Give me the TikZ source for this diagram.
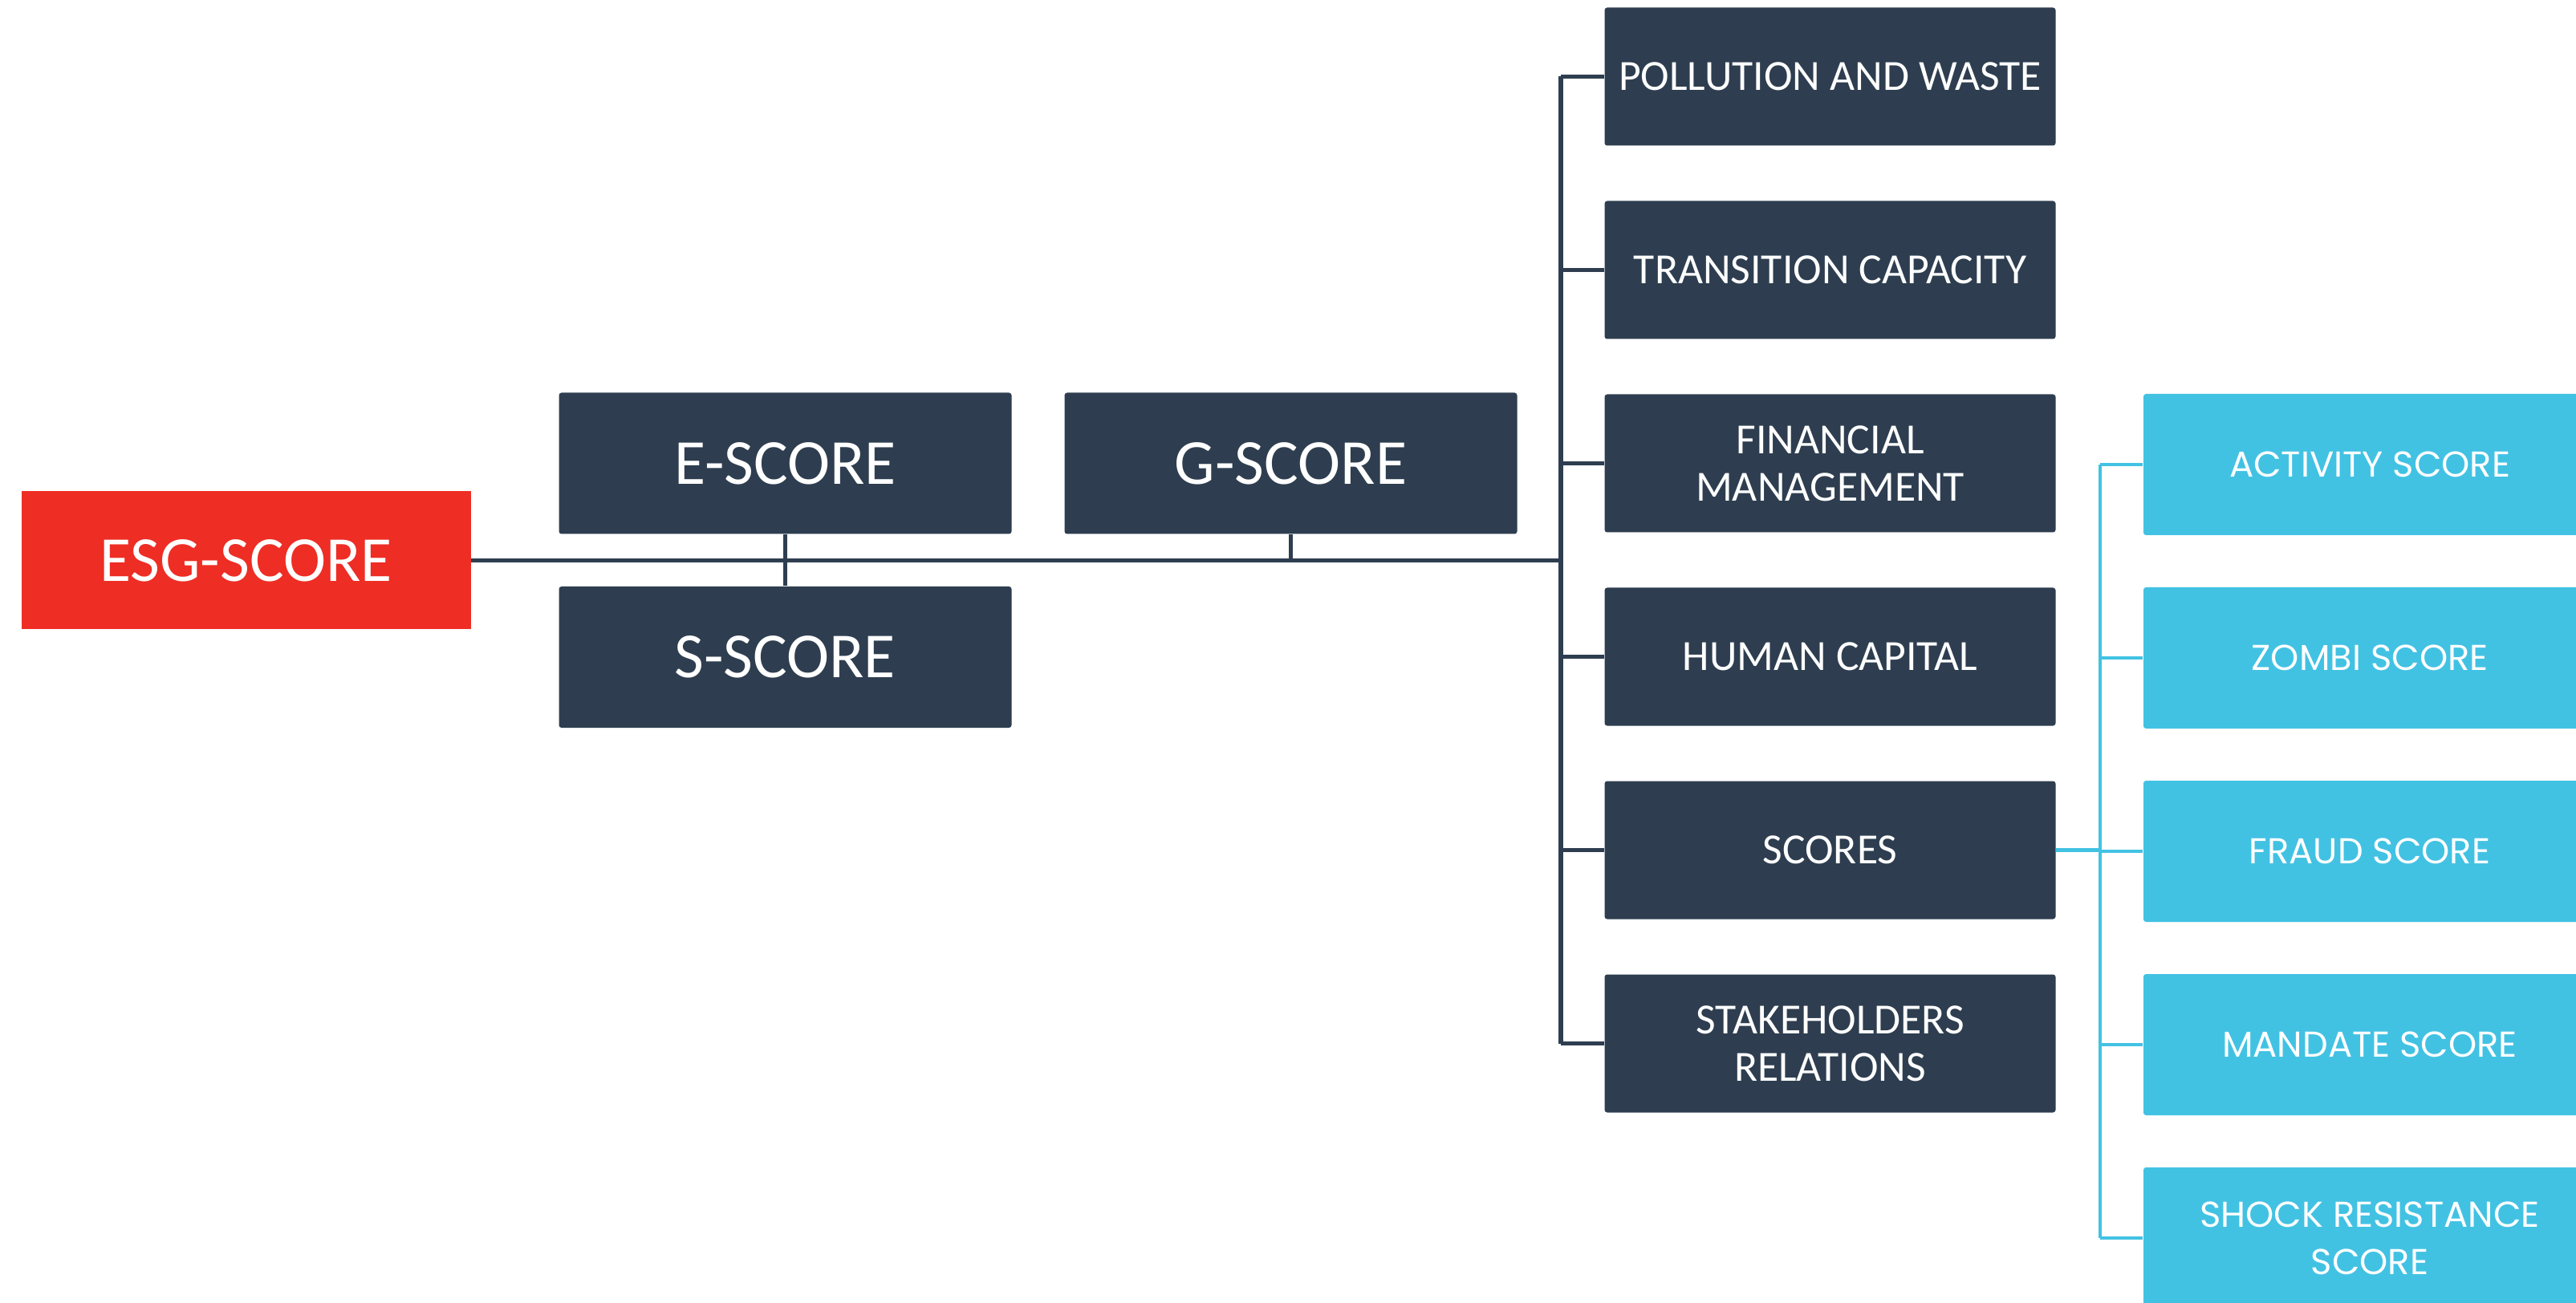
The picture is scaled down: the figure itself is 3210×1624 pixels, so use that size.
\documentclass[tikz,border=0pt]{standalone}
\usepackage{fontspec}
\setmainfont{Carlito}
\newfontfamily\lightfont{Poppins}
\definecolor{darkbox}{HTML}{2E3E50}
\definecolor{redbox}{HTML}{EE2D24}
\definecolor{lightbox}{HTML}{42C2E3}
\begin{document}
\begin{tikzpicture}[x=0.25pt,y=-0.25pt,
  base/.style={rectangle,rounded corners=0.8pt,inner sep=0pt,text=white,align=center},
  bigbox/.style={base,fill=darkbox,minimum width=141pt,minimum height=44pt,font=\fontsize{20}{24}\selectfont},
  esgbox/.style={base,fill=redbox,minimum width=140pt,minimum height=43pt,rounded corners=0pt,font=\fontsize{20}{24}\selectfont},
  colbox/.style={base,fill=darkbox,minimum width=140.5pt,minimum height=43pt,font=\fontsize{13.4}{14.8}\selectfont},
  subbox/.style={base,fill=lightbox,minimum width=141pt,minimum height=44pt,font=\lightfont\fontsize{11.2}{14.8}\selectfont},
  darkline/.style={draw=darkbox,line width=1.3pt},
  lightline/.style={draw=lightbox,line width=1.2pt}]
\path[use as bounding box,fill=white] (0,0) rectangle (3210,1624);
\node[esgbox] (esg) at (306.5,698.5) {ESG-SCORE};
\node[bigbox] (e) at (978.5,577.5) {E-SCORE};
\node[bigbox] (s) at (978.5,819) {S-SCORE};
\node[bigbox] (g) at (1608.5,577.5) {G-SCORE};
\node[colbox] (pw) at (2280.5,95.5) {POLLUTION AND WASTE};
\node[colbox] (tc) at (2280.5,336.5) {TRANSITION CAPACITY};
\node[colbox] (fm) at (2280.5,577.5) {FINANCIAL\\MANAGEMENT};
\node[colbox] (hc) at (2280.5,818.5) {HUMAN CAPITAL};
\node[colbox] (sc) at (2280.5,1059.5) {SCORES};
\node[colbox] (sr) at (2280.5,1300.5) {STAKEHOLDERS\\RELATIONS};
\node[subbox] (as) at (2953,579) {ACTIVITY SCORE};
\node[subbox] (zs) at (2953,820) {ZOMBI SCORE};
\node[subbox] (fs) at (2953,1061) {FRAUD SCORE};
\node[subbox] (ms) at (2953,1302) {MANDATE SCORE};
\node[subbox] (ss) at (2953,1543) {SHOCK RESISTANCE\\SCORE};
\coordinate (t) at (1945,0);
\coordinate (t2) at (2617,0);
\coordinate (ym) at (0,698);
% main
\draw[darkline] (esg.east) -- (esg.east -| t);
\draw[darkline] (e.south) -- (s.north);
\draw[darkline] (g.south) -- (g.south |- ym);
\draw[darkline] (pw.west -| t) -- (sr.west -| t);
\foreach \b in {pw,tc,fm,hc,sc,sr} \draw[darkline] (\b.west -| t) -- (\b.west);
% sub
\draw[lightline] (sc.east) -- (sc.east -| t2);
\draw[lightline] (as.west -| t2) -- (ss.west -| t2);
\foreach \b in {as,zs,fs,ms,ss} \draw[lightline] (\b.west -| t2) -- (\b.west);
\end{tikzpicture}
\end{document}
